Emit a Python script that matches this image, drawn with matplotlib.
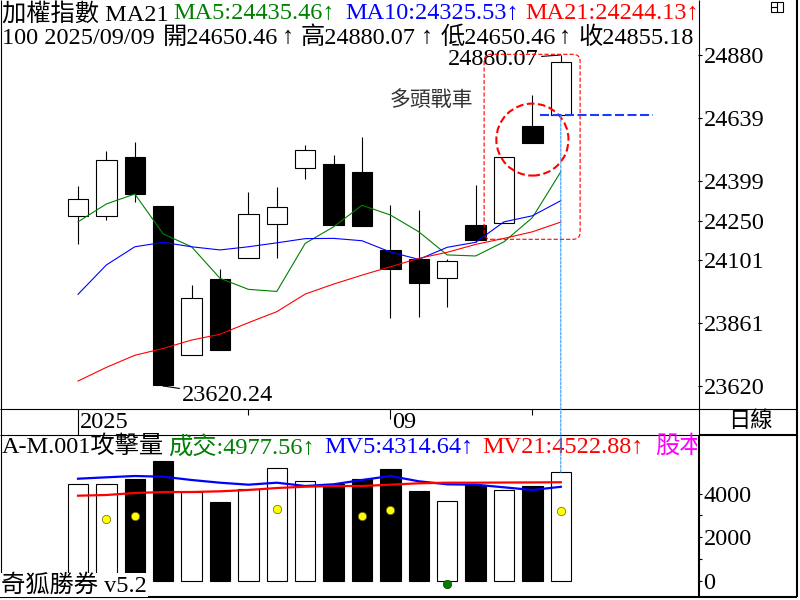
import matplotlib
matplotlib.use("Agg")
import matplotlib.pyplot as plt
from matplotlib.lines import Line2D
from matplotlib.patches import Rectangle, Ellipse, FancyBboxPatch, ConnectionPatch
from matplotlib.transforms import IdentityTransform, Bbox

plt.rcParams["font.family"] = ["Liberation Serif", "Noto Sans CJK TC", "DejaVu Sans"]
plt.rcParams["lines.scale_dashes"] = False

# 日K (最後一根 = 2025/09/09)
opens = [24266, 24268, 24492, 24305, 23737, 24027, 24106, 24235, 24449,
         24465, 24435, 24138, 24105, 24032, 24232, 24241, 24610, 24650.46]
highs = [24381, 24515, 24549, 24305, 24004, 24065, 24358, 24377, 24537,
         24499, 24569, 24309, 24290, 24103, 24385, 24490, 24728, 24880.07]
lows = [24162, 24252, 24322, 23620.24, 23737, 23758, 24106, 24108, 24409,
        24234, 24230, 23880, 23884, 23922, 24170, 24241, 24546, 24650.46]
closes = [24331, 24479, 24352, 23625, 23954, 23758, 24274, 24300, 24517,
          24234, 24230, 24066, 24013, 24096, 24176, 24490, 24546, 24855.18]

ma5 = [24245, 24313, 24351, 24199, 24150, 24030, 23988, 23980, 24163,
       24226, 24308, 24271, 24207, 24119, 24115, 24169, 24261, 24435.46]
ma10 = [23969, 24081, 24150, 24167, 24150, 24138, 24150, 24165, 24181,
        24182, 24173, 24130, 24102, 24148, 24167, 24245, 24268, 24325.53]
ma21 = [23639, 23691, 23737, 23763, 23795, 23817, 23861, 23903, 23970,
        24008, 24042, 24074, 24106, 24129, 24159, 24182, 24207, 24244.13]

volume = [4443, 4443, 4672, 5496, 4076, 3618, 4200, 5175, 4566,
          4443, 4672, 5130, 4122, 3664, 4397, 4154, 4351, 4977.56]
mv5 = [4685, 4749, 4809, 4777, 4626, 4502, 4411, 4502, 4351,
       4429, 4626, 4809, 4566, 4429, 4411, 4291, 4168, 4314.64]
mv21 = [3907, 3939, 4030, 4076, 4076, 4108, 4168, 4259, 4319,
        4351, 4351, 4411, 4475, 4502, 4502, 4510, 4515, 4522.88]

buy_idx = [1, 2, 7, 10, 11, 17]
buy_val = [2840, 2991, 3311, 2991, 3266, 3206]
sell_idx = [13]
sell_val = [-151]

price_ticks = [23620, 23861, 24101, 24250, 24399, 24639, 24880]
vol_ticks = [0, 2000, 4000]
vol_minor = [1000, 3000]
date_ticks = [0, 6, 11, 16]
date_labels = {0: "2025", 11: "09"}

W, H = 800, 600
FS = 17.5
bw = 0.72
n = len(closes)
xs = list(range(n))

fig = plt.figure(figsize=(8, 6), dpi=100)
fig.patch.set_facecolor("white")


def fx(x):
    return x / W


def fy(y):
    return 1 - y / H


def fline(x0, y0, x1, y1, lw=0.8):
    fig.add_artist(Line2D([fx(x0), fx(x1)], [fy(y0), fy(y1)],
                          transform=fig.transFigure, color="black", lw=lw,
                          solid_capstyle="butt"))


ax = fig.add_axes([0, fy(409), fx(698), 409 / H])
axd = fig.add_axes([0, fy(435), fx(698), 26 / H])
axv = fig.add_axes([0, 3 / H, fx(698), 162 / H])

xlim = (-78 / 28.4, 620 / 28.4)
for a in (ax, axd, axv):
    a.set_xlim(*xlim)
    for s in a.spines.values():
        s.set_visible(False)
    a.set_xticks([])

# ---- 主圖 K線
ax.set_ylim(23532.5, 25089.4)
for i in xs:
    o, h, l, c = opens[i], highs[i], lows[i], closes[i]
    up = c >= o
    ax.vlines(i, l, h, color="black", lw=0.8, zorder=2)
    ax.add_patch(Rectangle((i - bw / 2, min(o, c)), bw, max(abs(c - o), 2),
                           facecolor="white" if up else "black",
                           edgecolor="black", lw=0.8, zorder=3))

ax.plot(xs, ma5, color="#008000", lw=0.8, zorder=4)
ax.plot(xs, ma10, color="#0000ff", lw=0.8, zorder=4)
ax.plot(xs, ma21, color="#ff0000", lw=0.8, zorder=4)

ax.yaxis.tick_right()
ax.set_yticks(price_ticks)
ax.set_yticklabels([str(t) for t in price_ticks])
ax.tick_params(axis="y", direction="out", length=3, width=0.8, pad=1,
               labelsize=FS)

ax.annotate(f"{lows[3]:.2f}", xy=(3, lows[3]), xytext=(19, -10),
            textcoords="offset pixels", ha="left", va="center", fontsize=FS,
            arrowprops=dict(arrowstyle="-", lw=0.8, color="black",
                            shrinkA=0, shrinkB=0))
ax.annotate(f"{highs[-1]:.2f}", xy=(17, highs[-1]), xytext=(-22, -5),
            textcoords="offset pixels", ha="right", va="center", fontsize=FS,
            arrowprops=dict(arrowstyle="-", lw=0.8, color="black",
                            shrinkA=0, shrinkB=0))

ax.text(12.43, 24709, "多頭戰車", ha="center", va="center", fontsize=15,
        color="#333333", family=["Noto Sans CJK TC"])

ax.add_patch(Ellipse((16, 24558), 2.54, 274, fill=False, edgecolor="red",
                     lw=1.5, linestyle=(0, (5.5, 2.5)), zorder=6))
ax.hlines(opens[-1], 16.27, 20.25, color="#1a3cff", lw=1.5,
          linestyle=(0, (6.5, 2.5)), zorder=6)

fig.canvas.draw()
p0 = ax.transData.transform((14.3, 24178.5))
p1 = ax.transData.transform((17.68, 24882.7))
fig.add_artist(FancyBboxPatch((p0[0], p0[1]), p1[0] - p0[0], p1[1] - p0[1],
                              boxstyle="round,pad=0,rounding_size=7",
                              transform=IdentityTransform(), fill=False,
                              edgecolor="red", lw=0.8,
                              linestyle=(0, (3, 1.5)), zorder=6))

# ---- 日期列
axd.set_ylim(0, 1)
axd.set_yticks([])
for t in date_ticks:
    if t == 0:
        axd.vlines(t, 0, 1, color="black", lw=0.8)
    elif t in date_labels:
        axd.vlines(t, 0.6, 1, color="black", lw=0.8)
    else:
        axd.vlines(t, 0.77, 1, color="black", lw=0.8)
    if t in date_labels:
        axd.text(t + 0.07, 0.48, date_labels[t], ha="left", va="center",
                 fontsize=FS)

# ---- 成交量
axv.set_ylim(-733, 6687)
for i in xs:
    up = closes[i] >= opens[i]
    axv.bar(i, volume[i], width=bw, color="white" if up else "black",
            edgecolor="black", lw=0.8, zorder=2)
axv.plot(xs, mv5, color="#0000ff", lw=1.6, zorder=3)
axv.plot(xs, mv21, color="#ff0000", lw=1.6, zorder=3)
axv.plot(buy_idx, buy_val, "o", ms=6, mfc="#ffff00", mec="#666600",
         mew=0.5, zorder=4)
axv.plot(sell_idx, sell_val, "o", ms=6, mfc="#008000", mec="#004000",
         mew=0.5, zorder=4, clip_on=False)
axv.yaxis.tick_right()
axv.set_yticks(vol_ticks)
axv.set_yticks(vol_minor, minor=True)
axv.tick_params(axis="y", which="both", direction="out", length=3,
                width=0.8, pad=1, labelsize=FS)

# 十字線
fig.add_artist(ConnectionPatch(xyA=(17, opens[-1]), coordsA=ax.transData,
                               xyB=(17, volume[-1]), coordsB=axv.transData,
                               color="#3399ff", lw=0.8,
                               linestyle=(0, (2, 1)), zorder=6))

# ---- 標題文字
y1, y2 = 14, 38
fig.text(fx(2), fy(y1), "加權指數 MA21", ha="left", va="center", fontsize=FS)
fig.text(fx(173), fy(y1), f"MA5:{ma5[-1]:.2f}↑", ha="left", va="center",
         fontsize=FS, color="#008000")
fig.text(fx(345), fy(y1), f"MA10:{ma10[-1]:.2f}↑", ha="left", va="center",
         fontsize=FS, color="#0000ff")
fig.text(fx(525), fy(y1), f"MA21:{ma21[-1]:.2f}↑", ha="left", va="center",
         fontsize=FS, color="#ff0000")

line2 = [(2, "100 2025/09/09"),
         (163, f"開{opens[-1]:.2f}"), (282, "↑"),
         (301, f"高{highs[-1]:.2f}"), (421, "↑"),
         (441, f"低{lows[-1]:.2f}"), (559, "↑"),
         (579, f"收{closes[-1]:.2f}")]
for x, s in line2:
    fig.text(fx(x), fy(y2), s, ha="left", va="center", fontsize=FS)

yv = 447
fig.text(fx(2), fy(yv), "A-M.001攻擊量", ha="left", va="center", fontsize=FS)
fig.text(fx(168), fy(yv), f"成交:{volume[-1]:.2f}↑", ha="left", va="center",
         fontsize=FS, color="#008000")
fig.text(fx(324), fy(yv), f"MV5:{mv5[-1]:.2f}↑", ha="left", va="center",
         fontsize=FS, color="#0000ff")
fig.text(fx(482), fy(yv), f"MV21:{mv21[-1]:.2f}↑", ha="left", va="center",
         fontsize=FS, color="#ff0000")
t_gb = fig.text(fx(655), fy(yv), "股本", ha="left", va="center", fontsize=FS,
                color="#ff00ff")
t_gb.set_clip_box(Bbox([[0, 0], [697, H]]))
t_gb.set_clip_on(True)

fig.text(fx(750), fy(422), "日線", ha="center", va="center", fontsize=16)
fig.text(fx(1), fy(585), "奇狐勝券 v5.2", ha="left", va="center", fontsize=FS,
         bbox=dict(facecolor="white", edgecolor="none", pad=0.5))

# 視窗小圖示
fig.add_artist(Rectangle((fx(771), fy(12)), 12 / W, 10 / H, fill=False,
                         edgecolor="black", lw=0.8,
                         transform=fig.transFigure))
fline(777, 2, 777, 12)
fline(771, 7, 777, 7)

# ---- 框線
fline(0, 409, 797, 409)
fline(0, 435, 699, 435)
fline(699, 435, 797, 435, 1.5)
fline(698.5, 0, 698.5, 435)
fline(698.5, 435, 698.5, 597, 1.5)
fline(797, 0, 797, 597, 1.5)
fline(0.5, 0, 0.5, 597)
fline(0, 597, 797, 597, 1.5)

fig.savefig("out.png", dpi=100)
